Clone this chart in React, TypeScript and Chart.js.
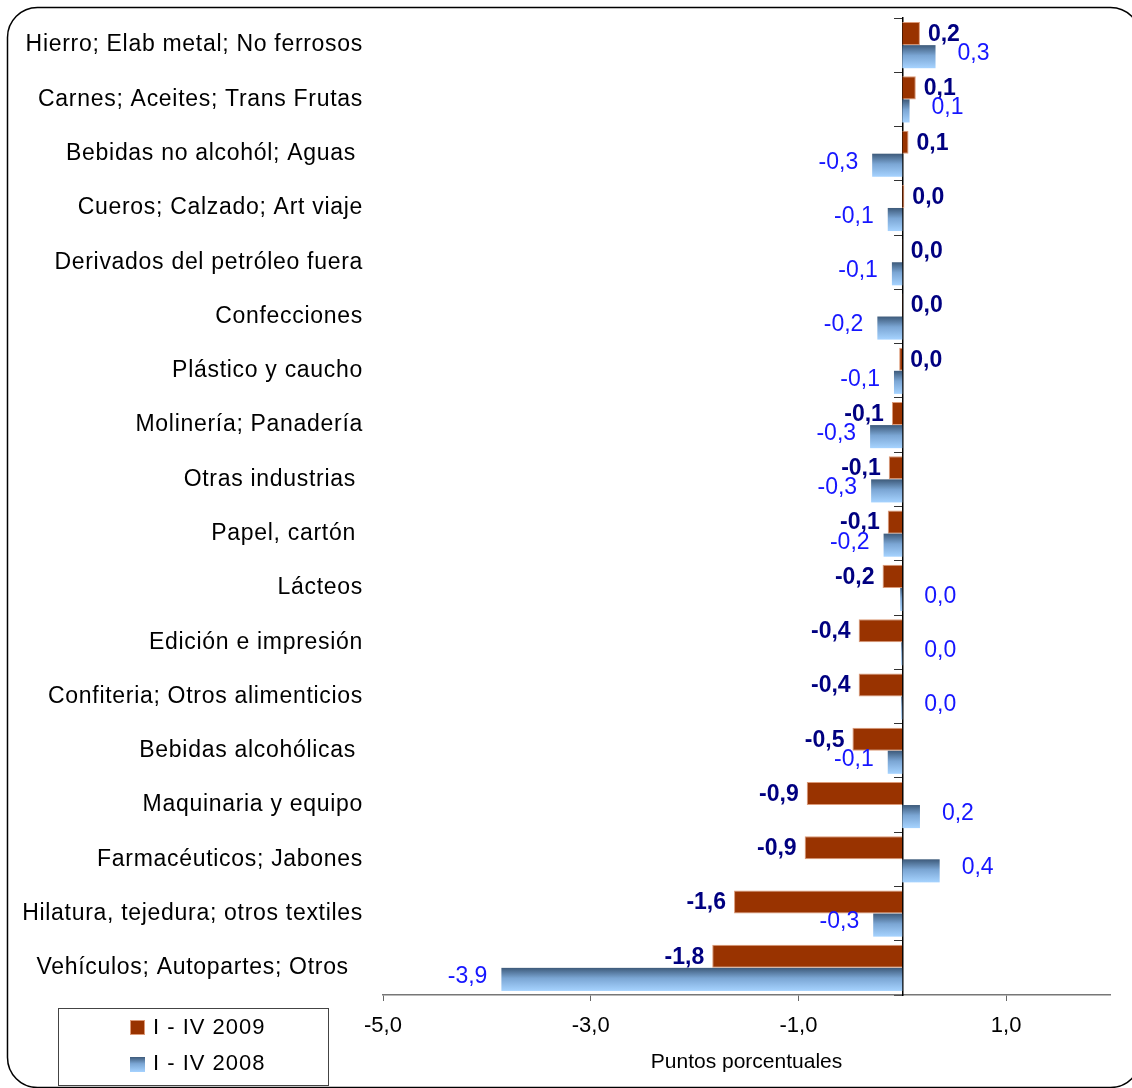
import React, { useEffect, useRef } from "react";
import { Chart, registerables } from "chart.js";

Chart.register(...registerables);

const categories = [
  "Hierro; Elab metal; No ferrosos",
  "Carnes; Aceites; Trans Frutas",
  "Bebidas no alcohól; Aguas ",
  "Cueros; Calzado; Art viaje",
  "Derivados del petróleo fuera",
  "Confecciones",
  "Plástico y caucho",
  "Molinería; Panadería",
  "Otras industrias ",
  "Papel, cartón ",
  "Lácteos",
  "Edición e impresión",
  "Confiteria; Otros alimenticios",
  "Bebidas alcohólicas ",
  "Maquinaria y equipo",
  "Farmacéuticos; Jabones",
  "Hilatura, tejedura; otros textiles",
  "Vehículos; Autopartes; Otros  ",
];

const values2009 = [
  0.17, 0.13, 0.06, 0.02, 0.004, 0.004, -0.03, -0.1, -0.13, -0.14, -0.19, -0.42,
  -0.42, -0.48, -0.92, -0.94, -1.62, -1.83,
];

const values2008 = [
  0.32, 0.07, -0.29, -0.14, -0.1, -0.24, -0.08, -0.31, -0.3, -0.18, -0.02,
  -0.01, -0.01, -0.14, 0.17, 0.36, -0.28, -3.86,
];

const seriesNames = ["I - IV 2009", "I - IV 2008"];
const xTickValues = [-5, -3, -1, 1];
const xMin = -5;
const xMax = 2;
const axisTitle = "Puntos porcentuales";

const FONT = '"Liberation Sans", Arial, Helvetica, sans-serif';
const RED = "#993300";
const RED_EDGE = "#dc9a78";

function blueGradient(ctx: CanvasRenderingContext2D, top: number, bottom: number) {
  const g = ctx.createLinearGradient(0, top, 0, bottom);
  g.addColorStop(0, "#3d5a7a");
  g.addColorStop(0.45, "#7ba6d4");
  g.addColorStop(1, "#a6d3ff");
  return g;
}

const fmt = (v: number) => {
  const r = Math.round(v * 10) / 10;
  return (r === 0 ? 0 : r).toFixed(1).replace(".", ",");
};

const decorPlugin = {
  id: "decor",
  beforeDraw(chart: any) {
    const ctx = chart.ctx as CanvasRenderingContext2D;
    ctx.save();
    ctx.fillStyle = "#ffffff";
    ctx.fillRect(0, 0, chart.width, chart.height);
    ctx.beginPath();
    (ctx as any).roundRect(7.5, 7.5, 1133, 1080, 30);
    ctx.strokeStyle = "#000";
    ctx.lineWidth = 1.5;
    ctx.stroke();
    ctx.restore();
  },
  afterDatasetsDraw(chart: any) {
    const ctx = chart.ctx as CanvasRenderingContext2D;
    ctx.save();
    const zeroX = chart.scales.x.getPixelForValue(0);
    // gradient bars for 2008
    const meta1 = chart.getDatasetMeta(1);
    meta1.data.forEach((el: any) => {
      const { x, y, base, height } = el.getProps(["x", "y", "base", "height"], true);
      const left = Math.min(x, base);
      const w = Math.abs(x - base);
      const top = y - height / 2;
      ctx.fillStyle = blueGradient(ctx, top, top + height);
      ctx.fillRect(left, top, w, height);
    });
    // value labels
    const drawLabels = (
      di: number,
      vals: number[],
      font: string,
      color: string,
      gapPos: number,
      gapNeg: number,
      dy: number
    ) => {
      const meta = chart.getDatasetMeta(di);
      ctx.font = font;
      ctx.fillStyle = color;
      ctx.textBaseline = "middle";
      meta.data.forEach((el: any, i: number) => {
        const { x, y } = el.getProps(["x", "y"], true);
        const v = vals[i];
        const r = Math.round(v * 10);
        if (r >= 0) {
          ctx.textAlign = "left";
          ctx.fillText(fmt(v), Math.max(x, zeroX) + gapPos, y + dy);
        } else {
          ctx.textAlign = "right";
          ctx.fillText(fmt(v), x - gapNeg, y + dy);
        }
      });
    };
    drawLabels(0, values2009, `bold 23px ${FONT}`, "#000080", 8, 8, 1);
    drawLabels(1, values2008, `23px ${FONT}`, "#1616ff", 22, 14, -3);
    ctx.restore();
  },
  afterDraw(chart: any) {
    const ctx = chart.ctx as CanvasRenderingContext2D;
    ctx.save();
    // category labels
    const yScale = chart.scales.y;
    ctx.font = `23px ${FONT}`;
    (ctx as any).letterSpacing = "0.7px";
    ctx.fillStyle = "#000";
    ctx.textAlign = "right";
    ctx.textBaseline = "middle";
    categories.forEach((c, i) => {
      ctx.fillText(c, 363, yScale.getPixelForValue(i));
    });
    // legend
    ctx.strokeStyle = "#444";
    ctx.lineWidth = 1;
    ctx.strokeRect(58.5, 1008.5, 270, 77);
    ctx.fillStyle = RED;
    ctx.fillRect(130, 1020, 15, 15);
    ctx.strokeStyle = RED_EDGE;
    ctx.strokeRect(130.5, 1020.5, 14, 14);
    ctx.fillStyle = blueGradient(ctx, 1057, 1072);
    ctx.fillRect(130, 1057, 15, 15);
    ctx.font = `22px ${FONT}`;
    (ctx as any).letterSpacing = "1px";
    ctx.fillStyle = "#000";
    ctx.textAlign = "left";
    ctx.textBaseline = "middle";
    ctx.fillText(seriesNames[0], 153, 1028);
    ctx.fillText(seriesNames[1], 153, 1064);
    (ctx as any).letterSpacing = "0px";
    ctx.restore();
  },
};

export default function App() {
  const ref = useRef<HTMLCanvasElement>(null);
  useEffect(() => {
    if (!ref.current) return;
    const chart = new Chart(ref.current, {
      type: "bar",
      data: {
        labels: categories,
        datasets: [
          {
            label: seriesNames[0],
            data: values2009,
            backgroundColor: RED,
            borderColor: RED_EDGE,
            borderWidth: 1,
            categoryPercentage: 0.85,
            barPercentage: 1.0,
          },
          {
            label: seriesNames[1],
            data: values2008,
            backgroundColor: "rgba(0,0,0,0)",
            borderWidth: 0,
            categoryPercentage: 0.85,
            barPercentage: 1.0,
          },
        ],
      },
      options: {
        indexAxis: "y",
        responsive: false,
        maintainAspectRatio: false,
        devicePixelRatio: 1,
        animation: false,
        layout: { padding: { top: 18, right: 22, bottom: 0, left: 0 } },
        plugins: { legend: { display: false }, tooltip: { enabled: false } },
        scales: {
          x: {
            type: "linear",
            position: "bottom",
            min: xMin,
            max: xMax,
            afterBuildTicks: (s: any) => {
              s.ticks = xTickValues.map((v) => ({ value: v }));
            },
            afterFit: (s: any) => {
              s.height = 93;
              s.paddingLeft = 0;
              s.paddingRight = 0;
            },
            grid: { drawOnChartArea: false, drawTicks: true, tickLength: 6, color: "#666", lineWidth: 1 },
            border: { display: true, color: "#777", width: 1.5 },
            ticks: {
              font: { family: FONT, size: 22 },
              color: "#000",
              padding: 12,
              callback: (v: any) => Number(v).toFixed(1).replace(".", ","),
            },
            title: {
              display: true,
              text: axisTitle,
              font: { family: FONT, size: 21 },
              color: "#000",
              padding: { top: 0, bottom: 13 },
            },
          },
          y: {
            type: "category",
            position: "left",
            afterFit: (s: any) => {
              s.width = 383;
              s.paddingTop = 0;
              s.paddingBottom = 0;
            },
            grid: { display: false, drawTicks: false },
            border: { display: false },
            ticks: { display: false },
          },
          y2: {
            type: "category",
            labels: categories,
            position: { x: 0 } as any,
            offset: true,
            z: 1,
            afterFit: (s: any) => {
              s.paddingTop = 0;
              s.paddingBottom = 0;
            },
            grid: { offset: true, drawOnChartArea: false, drawTicks: true, tickLength: 8, color: "#333" },
            border: { display: true, color: "#000", width: 1.5 },
            ticks: { display: false },
          },
        },
      } as any,
      plugins: [decorPlugin],
    });
    return () => chart.destroy();
  }, []);
  return (
    <div style={{ position: "absolute", left: 0, top: 0, width: 1132, height: 1088, background: "#fff" }}>
      <canvas ref={ref} width={1132} height={1088} style={{ display: "block" }} />
    </div>
  );
}
